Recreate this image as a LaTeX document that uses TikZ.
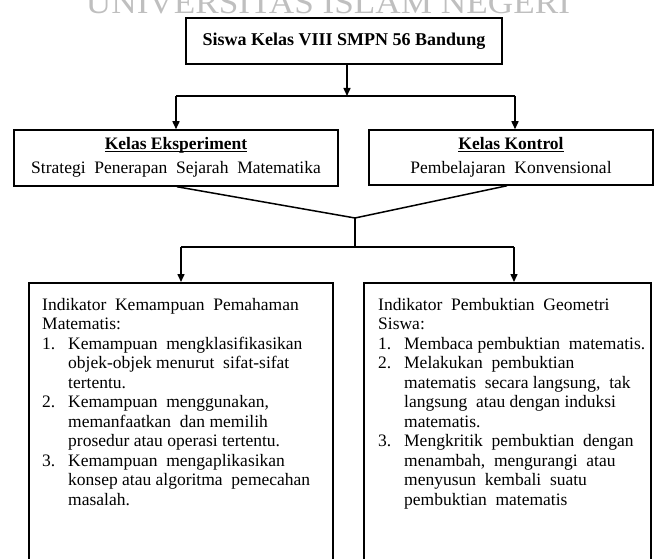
\documentclass[tikz,border=0pt]{standalone}
\usepackage{fontspec}
\setmainfont{Liberation Serif}
\usetikzlibrary{arrows.meta,calc}
\newcommand{\itm}[1]{\makebox[26pt][l]{#1}}
\newcommand{\cnt}{\hspace*{26pt}}
\newcommand{\myul}[1]{\underline{\vphantom{K}\smash{#1}}}
\begin{document}
\begin{tikzpicture}[x=1pt,y=-1pt,
  box/.style={draw, line width=1.5pt, rectangle, inner sep=0pt},
  conn/.style={line width=1.5pt},
  arr/.style={line width=1.5pt, -{Triangle[length=8pt,width=7pt]}},
  txt/.style={font=\fontsize{17.5}{19.5}\selectfont, align=left, inner sep=0pt, anchor=north west},
  head/.style={font=\fontsize{17.5}{24}\selectfont, align=center}
]
\useasboundingbox (0,0) rectangle (656,559);
\begin{scope}
\clip (0,0) rectangle (656,559);
\node[text=black!25, font=\fontsize{32}{32}\selectfont, xscale=1.1, anchor=base, inner sep=0pt] (wm) at (328,14) {UNIVERSITAS ISLAM NEGERI};

\node[box, minimum width=316pt, minimum height=46pt, font=\fontsize{18}{20}\selectfont\bfseries] (top) at (344,41) {Siswa Kelas VIII SMPN 56 Bandung};

\node[box, minimum width=324pt, minimum height=56pt, head] (lk) at (176,158) {\textbf{\myul{Kelas Eksperiment}}\\Strategi\ \ Penerapan\ \ Sejarah\ \ Matematika};
\node[box, minimum width=284pt, minimum height=55pt, head] (rk) at (511,157.5) {\textbf{\myul{Kelas Kontrol}}\\Pembelajaran\ \ Konvensional};

\node[box, minimum width=304pt, minimum height=320pt, anchor=north west] (lb) at (28,282) {};
\node[box, minimum width=287pt, minimum height=320pt, anchor=north west] (rb) at (363,282) {};

\node[txt] (lt) at ($(lb.north west)+(14,16)$) {%
Indikator\ \ Kemampuan\ \ Pemahaman\\
Matematis:\\
\itm{1.}Kemampuan\ \ mengklasifikasikan\\
\cnt objek-objek menurut\ \ sifat-sifat\\
\cnt tertentu.\\
\itm{2.}Kemampuan\ \ menggunakan,\\
\cnt memanfaatkan\ \ dan memilih\\
\cnt prosedur atau operasi tertentu.\\
\itm{3.}Kemampuan\ \ mengaplikasikan\\
\cnt konsep atau algoritma\ \ pemecahan\\
\cnt masalah.};

\node[txt] (rt) at ($(rb.north west)+(15,16)$) {%
Indikator\ \ Pembuktian\ \ Geometri\\
Siswa:\\
\itm{1.}Membaca pembuktian\ \ matematis.\\
\itm{2.}Melakukan\ \ pembuktian\\
\cnt matematis\ \ secara langsung,\ \ tak\\
\cnt langsung\ \ atau dengan induksi\\
\cnt matematis.\\
\itm{3.}Mengkritik\ \ pembuktian\ \ dengan\\
\cnt menambah,\ \ mengurangi\ \ atau\\
\cnt menyusun\ \ kembali\ \ suatu\\
\cnt pembuktian\ \ matematis};

\coordinate (j1) at (347,96);
\coordinate (a1) at (176,96);
\coordinate (a2) at (515,96);
\coordinate (m) at (355,218);
\coordinate (j2) at (355,247);
\coordinate (b1) at (181,247);
\coordinate (b2) at (514,247);

\draw[arr] (top.south -| j1) -- (j1);
\draw[conn] (a1) -- (a2);
\draw[arr] (a1) -- (a1 |- lk.north);
\draw[arr] (a2) -- (a2 |- rk.north);
\draw[conn] (lk.south -| 177,0) -- (m) -- (rk.south -| 507,0);
\draw[conn] (m) -- (j2);
\draw[conn] (b1) -- (b2);
\draw[arr] (b1) -- (b1 |- lb.north);
\draw[arr] (b2) -- (b2 |- rb.north);
\end{scope}
\end{tikzpicture}
\end{document}
